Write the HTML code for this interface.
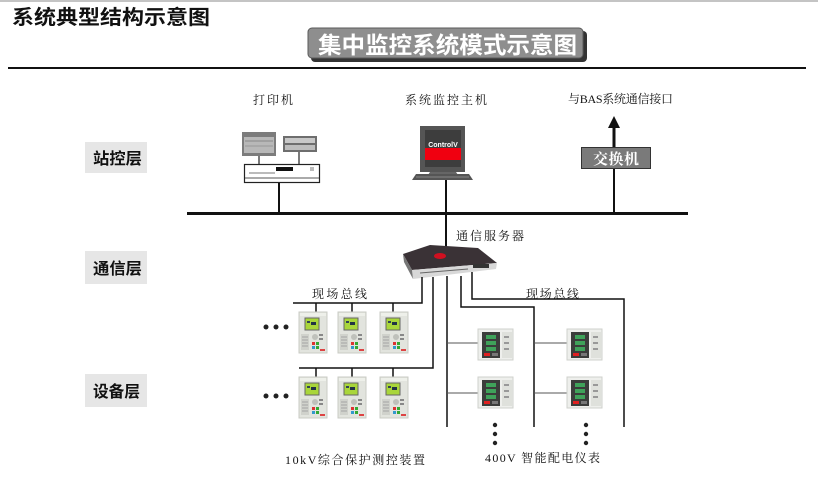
<!DOCTYPE html>
<html><head><meta charset="utf-8"><style>
html,body{margin:0;padding:0;background:#fff;}
body{width:818px;height:481px;overflow:hidden;position:relative;}
svg{position:absolute;left:0;top:0;}
.s{font-family:"Liberation Serif","Noto Serif CJK SC",serif;font-size:12px;fill:#111;}
.h{font-family:"Liberation Sans","Noto Sans CJK SC",sans-serif;font-weight:bold;}
</style></head><body>
<svg width="818" height="481" viewBox="0 0 818 481" xmlns="http://www.w3.org/2000/svg">
<defs>
  <g id="relay">
    <rect x="0" y="0" width="28" height="41" fill="#e2e4de" stroke="#c9cbc4" stroke-width="1"/>
    <rect x="1" y="1" width="26" height="3" fill="#eef0ea"/>
    <rect x="6" y="6" width="14" height="12" fill="#a9d63a" stroke="#666" stroke-width="1"/>
    <rect x="8" y="9" width="3" height="2" fill="#345"/>
    <rect x="12" y="10" width="5" height="3" fill="#234"/>
    <rect x="2" y="22" width="8" height="16" fill="#d0d2cc"/>
    <line x1="3" y1="25" x2="9" y2="25" stroke="#999" stroke-width="0.8"/>
    <line x1="3" y1="28" x2="9" y2="28" stroke="#999" stroke-width="0.8"/>
    <line x1="3" y1="31" x2="9" y2="31" stroke="#999" stroke-width="0.8"/>
    <line x1="3" y1="34" x2="9" y2="34" stroke="#999" stroke-width="0.8"/>
    <circle cx="16" cy="25" r="3" fill="#bfc1bb"/>
    <rect x="20" y="22" width="4" height="2" fill="#888"/>
    <rect x="20" y="26" width="4" height="2" fill="#888"/>
    <rect x="13" y="30" width="3" height="3" fill="#d33"/>
    <rect x="17" y="30" width="3" height="3" fill="#3a3"/>
    <rect x="13" y="34" width="3" height="3" fill="#39c"/>
    <rect x="17" y="34" width="3" height="3" fill="#3a3"/>
    <rect x="21" y="37" width="5" height="2" fill="#d44"/>
  </g>
  <g id="meter">
    <rect x="0" y="0" width="35" height="31" fill="#eeefec" stroke="#cfd1cc" stroke-width="1"/>
    <rect x="24" y="3" width="10" height="26" fill="#dfe1dc"/>
    <rect x="4" y="3" width="18" height="26" fill="#3b3d3b"/>
    <rect x="8" y="6" width="10" height="4" fill="#3fa25a"/>
    <rect x="8" y="12" width="10" height="4" fill="#3fa25a"/>
    <rect x="8" y="18" width="10" height="4" fill="#3fa25a"/>
    <rect x="6" y="24" width="6" height="3" fill="#e02020"/>
    <rect x="14" y="24" width="6" height="3" fill="#777"/>
    <rect x="26" y="7" width="5" height="2" fill="#999"/>
    <rect x="26" y="13" width="5" height="2" fill="#999"/>
    <rect x="26" y="19" width="5" height="2" fill="#999"/>
  </g>
</defs>

<!-- top border -->
<rect x="0" y="0" width="818" height="2" fill="#c4c4c4"/>

<!-- title -->
<text x="12" y="24" class="h" font-size="20" fill="#111" textLength="198" lengthAdjust="spacingAndGlyphs">系统典型结构示意图</text>

<!-- button -->
<rect x="311" y="31" width="276" height="31" rx="4" fill="#333"/>
<rect x="308" y="28" width="275" height="30" rx="4" fill="#8e8e8e" stroke="#5a5a5a" stroke-width="1"/>
<text x="318" y="53" class="h" font-size="23" fill="#fff" textLength="259" lengthAdjust="spacingAndGlyphs">集中监控系统模式示意图</text>

<!-- separator -->
<rect x="8" y="67" width="798" height="2" fill="#111"/>

<!-- layer labels -->
<rect x="85" y="142" width="62" height="31" fill="#e6e6e6"/>
<text x="93" y="164" class="h" font-size="16" fill="#111" textLength="49" lengthAdjust="spacingAndGlyphs">站控层</text>
<rect x="85" y="251" width="62" height="33" fill="#e6e6e6"/>
<text x="93" y="274" class="h" font-size="16" fill="#111" textLength="49" lengthAdjust="spacingAndGlyphs">通信层</text>
<rect x="85" y="374" width="62" height="33" fill="#e6e6e6"/>
<text x="93" y="397" class="h" font-size="16" fill="#111" textLength="47" lengthAdjust="spacingAndGlyphs">设备层</text>

<!-- station labels -->
<text x="253" y="104" class="s" textLength="40" lengthAdjust="spacing">打印机</text>
<text x="405" y="104" class="s" textLength="82" lengthAdjust="spacing">系统监控主机</text>
<text x="568" y="103" class="s" font-size="11" textLength="105" lengthAdjust="spacing">与BAS系统通信接口</text>

<!-- printer group -->
<rect x="242" y="132" width="34" height="24" fill="#7c7c7c"/>
<rect x="244" y="137" width="30" height="16" fill="#b8b8b8"/>
<line x1="245" y1="141" x2="273" y2="141" stroke="#888" stroke-width="1"/>
<line x1="245" y1="146" x2="273" y2="146" stroke="#999" stroke-width="1"/>
<rect x="283" y="136" width="34" height="16" fill="#6e6e6e"/>
<rect x="285" y="138" width="30" height="5" fill="#c8c8c8"/>
<rect x="285" y="145" width="30" height="5" fill="#bdbdbd"/>
<line x1="259" y1="156" x2="259" y2="164" stroke="#222" stroke-width="1.2"/>
<line x1="299" y1="152" x2="299" y2="164" stroke="#222" stroke-width="1.2"/>
<rect x="244.5" y="164.5" width="75" height="18" fill="#fff" stroke="#222" stroke-width="1.2"/>
<line x1="245" y1="178" x2="319" y2="178" stroke="#555" stroke-width="1"/>
<rect x="276" y="167" width="17" height="4" fill="#111"/>
<line x1="249" y1="173" x2="275" y2="173" stroke="#777" stroke-width="1"/>
<rect x="310" y="167" width="4" height="4" fill="#bbb"/>
<line x1="279" y1="183" x2="279" y2="213" stroke="#111" stroke-width="2"/>

<!-- monitor -->
<rect x="420" y="126" width="45" height="46" fill="#555"/>
<rect x="425" y="130" width="36" height="37" fill="#3d3d3d"/>
<rect x="425" y="148" width="36" height="12" fill="#f00010"/>
<text x="443" y="147" font-family="Liberation Sans,sans-serif" font-weight="bold" font-size="7" fill="#fff" text-anchor="middle">ControlV</text>
<polygon points="430,172 456,172 458,175 428,175" fill="#666"/>
<polygon points="416,174 469,174 473,180 412,180" fill="#555"/>
<line x1="416" y1="177" x2="469" y2="177" stroke="#888" stroke-width="1"/>

<!-- switch & arrow -->
<polygon points="614,116 608,128 620,128" fill="#111"/>
<line x1="614" y1="127" x2="614" y2="147" stroke="#111" stroke-width="3"/>
<rect x="581.5" y="147.5" width="69" height="21" fill="#7a7a7a" stroke="#333" stroke-width="1"/>
<text x="593" y="164" font-family="Liberation Serif,'Noto Serif CJK SC',serif" font-weight="bold" font-size="15" fill="#fff" textLength="46" lengthAdjust="spacing">交换机</text>
<line x1="614" y1="169" x2="614" y2="213" stroke="#111" stroke-width="2"/>

<!-- station bus -->
<rect x="187" y="212" width="501" height="3" fill="#111"/>
<line x1="446" y1="180" x2="446" y2="248" stroke="#111" stroke-width="2"/>

<!-- server -->
<text x="456" y="240" class="s" textLength="68" lengthAdjust="spacing">通信服务器</text>
<polygon points="403,254 430,245 478,248 497,263 412,270" fill="#3a3236"/>
<polygon points="412,270 497,263 496,269 413,279" fill="#d8d8d8"/>
<polygon points="403,254 412,270 413,279 404,262" fill="#777"/>
<rect x="473" y="264" width="16" height="4" fill="#333"/>
<ellipse cx="440" cy="256" rx="6" ry="3" fill="#d01020"/>
<line x1="420" y1="273" x2="468" y2="269" stroke="#666" stroke-width="1"/>

<!-- server lines -->
<g stroke="#111" stroke-width="1.5" fill="none">
  <polyline points="422,277 422,303 293,303"/>
  <polyline points="433,277 433,368 299,368"/>
  <polyline points="461,276 461,307 534,307 534,427"/>
  <polyline points="472,272 472,299 624,299 624,427"/>
  <line x1="447" y1="276" x2="447" y2="427"/>
  <line x1="316" y1="303" x2="316" y2="312"/>
  <line x1="352" y1="303" x2="352" y2="312"/>
  <line x1="393" y1="303" x2="393" y2="312"/>
  <line x1="316" y1="368" x2="316" y2="377"/>
  <line x1="352" y1="368" x2="352" y2="377"/>
  <line x1="393" y1="368" x2="393" y2="377"/>
</g>
<g stroke="#555" stroke-width="1">
  <line x1="447" y1="343" x2="478" y2="343"/>
  <line x1="447" y1="393" x2="478" y2="393"/>
  <line x1="534" y1="343" x2="567" y2="343"/>
  <line x1="534" y1="393" x2="567" y2="393"/>
</g>

<!-- field bus labels -->
<text x="312" y="298" class="s" textLength="55" lengthAdjust="spacing">现场总线</text>
<text x="526" y="298" class="s" textLength="53" lengthAdjust="spacing">现场总线</text>

<!-- relays -->
<use href="#relay" x="299" y="312"/>
<use href="#relay" x="338" y="312"/>
<use href="#relay" x="380" y="312"/>
<use href="#relay" x="299" y="377"/>
<use href="#relay" x="338" y="377"/>
<use href="#relay" x="380" y="377"/>

<!-- dots left -->
<g fill="#222">
  <circle cx="266" cy="327" r="2.5"/><circle cx="276" cy="327" r="2.5"/><circle cx="286" cy="327" r="2.5"/>
  <circle cx="266" cy="396" r="2.5"/><circle cx="276" cy="396" r="2.5"/><circle cx="286" cy="396" r="2.5"/>
</g>

<!-- meters -->
<use href="#meter" x="478" y="329"/>
<use href="#meter" x="478" y="377"/>
<use href="#meter" x="567" y="329"/>
<use href="#meter" x="567" y="377"/>

<!-- dots below meters -->
<g fill="#222">
  <circle cx="495" cy="425" r="2.2"/><circle cx="495" cy="434" r="2.2"/><circle cx="495" cy="443" r="2.2"/>
  <circle cx="586" cy="425" r="2.2"/><circle cx="586" cy="434" r="2.2"/><circle cx="586" cy="443" r="2.2"/>
</g>

<!-- bottom labels -->
<text x="285" y="464" class="s" font-size="13" textLength="140" lengthAdjust="spacing">10kV综合保护测控装置</text>
<text x="485" y="462" class="s" font-size="13" textLength="115" lengthAdjust="spacing">400V 智能配电仪表</text>
</svg>
</body></html>
